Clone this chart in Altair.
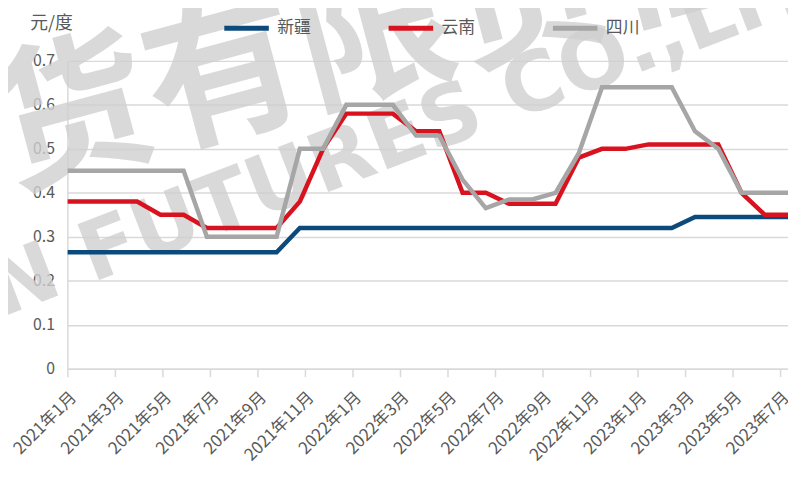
import json
import altair as alt
import pandas as pd

# ---- data ----
series_names = ["新疆", "云南", "四川"]
series_colors = ["#0c4a7c", "#d9121f", "#a6a6a6"]

xinjiang = [0.265, 0.265, 0.265, 0.265, 0.265, 0.265, 0.265, 0.265, 0.265, 0.265,
            0.32, 0.32, 0.32, 0.32, 0.32, 0.32, 0.32, 0.32, 0.32, 0.32,
            0.32, 0.32, 0.32, 0.32, 0.32, 0.32, 0.32, 0.345, 0.345, 0.345,
            0.345, 0.345]
yunnan = [0.38, 0.38, 0.38, 0.38, 0.35, 0.35, 0.32, 0.32, 0.32, 0.32,
          0.38, 0.50, 0.58, 0.58, 0.58, 0.54, 0.54, 0.40, 0.40, 0.375,
          0.375, 0.375, 0.48, 0.50, 0.50, 0.51, 0.51, 0.51, 0.51, 0.40,
          0.35, 0.35]
sichuan = [0.45, 0.45, 0.45, 0.45, 0.45, 0.45, 0.30, 0.30, 0.30, 0.30,
           0.50, 0.50, 0.60, 0.60, 0.60, 0.53, 0.53, 0.43, 0.365, 0.385,
           0.385, 0.40, 0.49, 0.64, 0.64, 0.64, 0.64, 0.54, 0.50, 0.40,
           0.40, 0.40]

tick_months = [0, 2, 4, 6, 8, 10, 12, 14, 16, 18, 20, 22, 24, 26, 28, 30]
tick_labels = ["2021年1月", "2021年3月", "2021年5月", "2021年7月", "2021年9月",
               "2021年11月", "2022年1月", "2022年3月", "2022年5月", "2022年7月",
               "2022年9月", "2022年11月", "2023年1月", "2023年3月", "2023年5月",
               "2023年7月"]
y_ticks = [0, 0.1, 0.2, 0.3, 0.4, 0.5, 0.6, 0.7]

unit_title = "元/度"
watermark_cn = ["期货有限责任公司"]
watermark_en = ["N FUTURES CO.,LTD."]

# ---- tables ----
rows = []
for name, vals in zip(series_names, [xinjiang, yunnan, sichuan]):
    for i, v in enumerate(vals):
        rows.append({"series": name, "idx": i, "value": v})
df = pd.DataFrame(rows)
ticks_df = pd.DataFrame({"m": tick_months, "label": tick_labels})

FONT = "Noto Sans CJK SC"
TXT = "#595959"
GRID = "#d9d9d9"

W, H = 728, 311

label_expr = json.dumps(tick_labels, ensure_ascii=False) + "[round(datum.value / 2)]"

wm_cn = alt.Chart(pd.DataFrame({"t": watermark_cn})).mark_text(
    font=FONT, fontSize=158, fontWeight="bold", color="#d0d0d0", opacity=0.8,
    angle=345, align="left", baseline="middle"
).encode(text="t:N", x=alt.value(-222), y=alt.value(122))

wm_en = alt.Chart(pd.DataFrame({"t": watermark_en})).mark_text(
    font="DejaVu Sans", fontSize=83, fontWeight="bold", color="#d0d0d0", opacity=0.8,
    angle=339, align="left", baseline="middle"
).encode(text="t:N", x=alt.value(-76), y=alt.value(236))

axis_layer = alt.Chart(ticks_df).mark_tick(opacity=0).encode(
    x=alt.X("m:Q",
            scale=alt.Scale(domain=[0, 30.33], nice=False, zero=False),
            axis=alt.Axis(orient="bottom", values=tick_months, labelExpr=label_expr,
                          title=None, grid=False, labelAngle=315, labelAlign="right",
                          labelBaseline="middle", labelFont=FONT, labelFontSize=17,
                          labelColor=TXT, labelPadding=18, labelOffset=6,
                          tickSize=8, tickColor=GRID,
                          tickWidth=1.5, domainColor=GRID, domainWidth=1.5,
                          labelOverlap=False, labelBound=False, labelFlush=False)),
    y=alt.value(H),
)

lines = alt.Chart(df).mark_line(strokeWidth=4.5, clip=True).encode(
    x=alt.X("idx:Q", scale=alt.Scale(domain=[0, 31], nice=False, zero=False), axis=None),
    y=alt.Y("value:Q",
            scale=alt.Scale(domain=[0, 0.7], nice=False),
            axis=alt.Axis(values=y_ticks,
                          labelExpr="datum.value == 0 ? '0' : format(datum.value, '.1f')",
                          title=unit_title, titleAngle=0, titleAlign="left",
                          titleBaseline="middle", titleX=-38, titleY=-38,
                          titleFont=FONT, titleFontSize=18, titleFontWeight="normal",
                          titleColor=TXT, labelFont=FONT, labelFontSize=16,
                          labelColor=TXT, ticks=False, labelPadding=13,
                          grid=True, gridColor=GRID, gridWidth=1.5,
                          domainColor=GRID, domainWidth=1.5)),
    color=alt.Color("series:N",
                    scale=alt.Scale(domain=series_names, range=series_colors),
                    sort=series_names,
                    legend=alt.Legend(orient="none", legendX=156, legendY=-58,
                                      direction="horizontal", title=None,
                                      columns=3, gridAlign="all",
                                      symbolType="stroke", symbolSize=2025,
                                      symbolStrokeWidth=5, labelFont=FONT,
                                      labelFontSize=17, labelColor=TXT,
                                      labelOffset=6, columnPadding=68)),
    order=alt.Order("idx:Q"),
)

chart = alt.layer(wm_cn, wm_en, axis_layer, lines).resolve_scale(
    x="independent"
).properties(
    width=W, height=H,
    autosize=alt.AutoSizeParams(type="none"),
    padding={"left": 60, "top": 51, "right": 0, "bottom": 109},
).configure_view(stroke=None)

chart.save("out.html", embed_options={"renderer": "svg", "actions": False})
